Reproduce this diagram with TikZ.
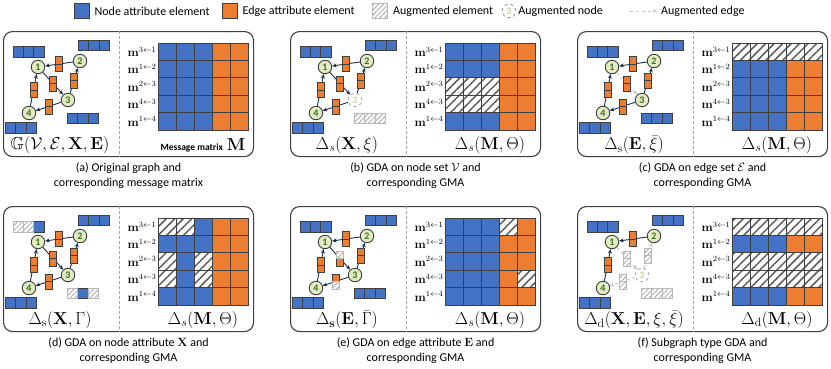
\documentclass[tikz,border=0pt]{standalone}
\usepackage{amsmath,amssymb}
\usepackage[no-math]{fontspec}
\setmainfont{Carlito}
\usetikzlibrary{arrows.meta,positioning,patterns.meta}

\definecolor{nodeblue}{HTML}{4472C4}
\definecolor{edgeorange}{HTML}{ED7D31}
\definecolor{cellline}{HTML}{3F3F3F}
\definecolor{nodefill}{HTML}{E3EBC5}
\definecolor{nodetext}{HTML}{3C7021}
\definecolor{linkcol}{HTML}{1F2D4A}
\definecolor{augtext}{HTML}{D6CFA4}

\tikzset{
  pane/.style={draw=cellline, line width=1.1pt, rounded corners=9pt, anchor=north west,
    minimum width=250pt, minimum height=125pt, inner sep=0pt},
  divider/.style={draw=gray!70, line width=0.8pt, dash pattern=on 3pt off 2pt},
  gnode/.style={circle, draw=cellline, line width=0.9pt, fill=nodefill, minimum size=13.5pt,
    inner sep=0pt, text=nodetext, font=\fontsize{10}{10}\selectfont\bfseries},
  augnode/.style={gnode, draw=gray!65, dashed, fill=white, text=augtext},
  link/.style={draw=linkcol, line width=0.9pt, -{Stealth[length=4.5pt,width=4pt]}},
  auglink/.style={link, draw=gray!45, dashed},
  ncell/.style={draw=cellline, line width=0.9pt, fill=nodeblue, solid,
    minimum width=10.3pt, minimum height=10.3pt, inner sep=0pt},
  ecell/.style={draw=cellline, line width=0.8pt, fill=edgeorange, solid,
    minimum width=7pt, minimum height=7.5pt, inner sep=0pt},
  mcell/.style={draw=cellline, line width=1pt, minimum width=18pt, minimum height=17.4pt, inner sep=0pt},
  ghatch/.style={draw=gray!55, preaction={fill=white},
    pattern={Lines[angle=45,distance=3.5pt,line width=1pt]}, pattern color=gray!60},
  mhatch/.style={preaction={fill=white},
    pattern={Lines[angle=45,distance=6pt,line width=1.5pt]}, pattern color=cellline!85},
  rowlab/.style={anchor=east, inner sep=1pt, font=\large},
  glabel/.style={font=\LARGE, inner sep=0pt},
  mlabel/.style={font=\LARGE, inner sep=0pt},
  legbox/.style={draw=cellline, line width=0.9pt, minimum size=15pt, inner sep=0pt},
  legtext/.style={font=\fontsize{12}{14}\selectfont, inner sep=0pt},
  capt/.style={align=center, font=\fontsize{12}{15}\selectfont, inner sep=0pt}
}

% one panel: graph left, message matrix right
% #1 name, #2 origin, #3 style of node 3, #4-#6 styles of links 1-3, 3-2, 3-4,
% #7 graph label, #8 matrix label
\newcommand{\gdapanel}[8]{%
\begin{scope}[shift={#2}]
\node[pane] (#1) at (0,0) {};
\draw[divider] ([xshift=116pt]#1.north west) -- ([xshift=116pt]#1.south west);
% graph
\node[gnode] (#11) at (35,36) {1};
\node[gnode] (#12) at (77,30) {2};
\node[#3] (#13) at (65,69) {3};
\node[gnode] (#14) at (26,82) {4};
\foreach \nd/\x/\y in {1/25.5/21, 2/91/14.5, 3/80/87.5, 4/18/97}
  \foreach \cc in {1,2,3}
    \node[ncell] (#1\nd-\cc) at (\x+10.3*\cc-20.6,\y) {};
\foreach \na/\nb/\est in {2/1/link, 1/3/#4, 3/2/#5, 3/4/#6, 4/1/link}
  \draw[\est] (#1\na) -- node[ecell,yshift=3.75] (#1\na\nb-t) {}
                         node[ecell,yshift=-3.75] (#1\na\nb-b) {} (#1\nb);
\node[glabel] (#1g) at (57,114) {#7};
% message matrix
\foreach \lab [count=\i] in {3\leftarrow1,1\leftarrow2,2\leftarrow3,4\leftarrow3,1\leftarrow4} {
  \foreach \j in {1,2,3}
    \node[mcell,fill=nodeblue] (#1m\i\j) at (146+18*\j,3.3+17.4*\i) {};
  \foreach \j in {4,5}
    \node[mcell,fill=edgeorange] (#1m\i\j) at (146+18*\j,3.3+17.4*\i) {};
  \node[rowlab] at (#1m\i1.west) {$\mathbf{m}^{\lab}$};
}
\node[mlabel] (#1l) at (200,114) {#8};
\end{scope}}

\begin{document}
\begin{tikzpicture}[x=1pt,y=-1pt]
\useasboundingbox (0,0) rectangle (831,368);

% legend
\node[legbox,fill=nodeblue] (lg1) at (81.5,11) {};
\node[legtext,right=5pt of lg1] (lt1) {Node attribute element};
\node[legbox,fill=edgeorange] (lg2) at (229.5,11) {};
\node[legtext,right=5pt of lg2] (lt2) {Edge attribute element};
\node[legbox,ghatch] (lg3) at (380,11) {};
\node[legtext,right=5pt of lg3] (lt3) {Augmented element};
\node[augnode,draw=gray!80] (lg4) at (509,11) {3};
\node[legtext,right=2pt of lg4] (lt4) {Augmented node};
\coordinate (lg5a) at (630,11);
\coordinate (lg5b) at (657,11);
\draw[auglink] (lg5a) -- (lg5b);
\node[legtext,right=4pt of lg5b] (lt5) {Augmented edge};

% (a) original graph
\gdapanel{a}{(3,31)}{gnode}{link}{link}{link}
  {$\mathbb{G}(\mathcal{V},\mathcal{E},\mathbf{X},\mathbf{E})$}
  {{\fontsize{9.5}{10}\selectfont\bfseries Message matrix}~$\mathbf{M}$}
\node[capt,below=5pt of a] (capa) {(a) Original graph and\\corresponding message matrix};

% (b) node set
\gdapanel{b}{(290,31)}{augnode}{link}{link}{link}
  {$\Delta_s(\mathbf{X},\xi)$}{$\Delta_s(\mathbf{M},\Theta)$}
\foreach \cc in {1,2,3} \node[ncell,ghatch] at (b3-\cc) {};
\foreach \i in {3,4} \foreach \j in {1,2,3} \node[mcell,mhatch] at (bm\i\j) {};
\node[capt,below=5pt of b] (capb) {(b) GDA on node set $\mathcal{V}$ and\\corresponding GMA};

% (c) edge set
\gdapanel{c}{(577,31)}{gnode}{auglink}{link}{link}
  {$\Delta_{\mathrm{s}}(\mathbf{E},\bar{\xi})$}{$\Delta_s(\mathbf{M},\Theta)$}
\foreach \j in {1,...,5} \node[mcell,mhatch] at (cm1\j) {};
\node[capt,below=5pt of c] (capc) {(c) GDA on edge set $\mathcal{E}$ and\\corresponding GMA};

% (d) node attribute
\gdapanel{d}{(3,206)}{gnode}{link}{link}{link}
  {$\Delta_{\mathrm{s}}(\mathbf{X},\Gamma)$}{$\Delta_s(\mathbf{M},\Theta)$}
\foreach \cl in {1-1,1-2,3-1,3-3} \node[ncell,ghatch] at (d\cl) {};
\foreach \i/\j in {1/1,1/2,3/1,3/3,4/1,4/3} \node[mcell,mhatch] at (dm\i\j) {};
\node[capt,below=5pt of d] (capd) {(d) GDA on node attribute $\mathbf{X}$ and\\corresponding GMA};

% (e) edge attribute
\gdapanel{e}{(290,206)}{gnode}{link}{link}{link}
  {$\Delta_{\mathbf{s}}(\mathbf{E},\bar{\Gamma})$}{$\Delta_s(\mathbf{M},\Theta)$}
\foreach \cl in {13-t,34-b} \node[ecell,ghatch] at (e\cl) {};
\foreach \i/\j in {1/4,4/5} \node[mcell,mhatch] at (em\i\j) {};
\node[capt,below=5pt of e] (cape) {(e) GDA on edge attribute $\mathbf{E}$ and\\corresponding GMA};

% (f) subgraph
\gdapanel{f}{(577,206)}{augnode}{auglink}{auglink}{auglink}
  {$\Delta_{\mathrm{d}}(\mathbf{X},\mathbf{E},\xi,\bar{\xi})$}{$\Delta_{\mathrm{d}}(\mathbf{M},\Theta)$}
\foreach \cc in {1,2,3} \node[ncell,ghatch] at (f3-\cc) {};
\foreach \cl in {13-t,13-b,32-t,32-b,34-t,34-b} \node[ecell,ghatch] at (f\cl) {};
\foreach \i in {1,3,4} \foreach \j in {1,...,5} \node[mcell,mhatch] at (fm\i\j) {};
\node[capt,below=5pt of f] (capf) {(f) Subgraph type GDA and\\corresponding GMA};
\end{tikzpicture}
\end{document}
